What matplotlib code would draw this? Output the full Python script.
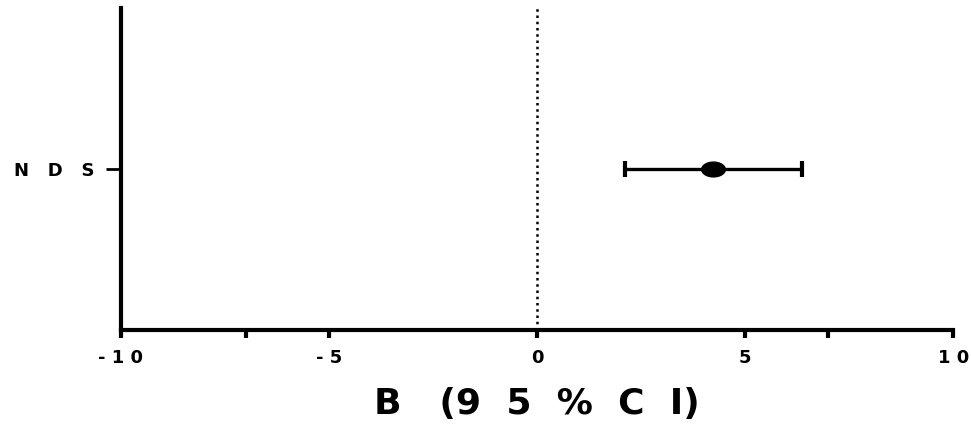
import matplotlib.pyplot as plt
from matplotlib.path import Path
from matplotlib.markers import MarkerStyle
import numpy as np

# Data
#---------------------------
labels = ["NDS"]
estimate = [4.24]
ci_low = [2.12]
ci_high = [6.36]
xticks = [-10, -7, -5, 0, 5, 7, 10]
xticklabels = ["- 1 0", "", "- 5", "0", "5", "", "1 0"]

plt.rcParams['font.family'] = ['DejaVu Sans']

fig = plt.figure(figsize=(9.71, 4.25), dpi=100)
ax = fig.add_axes([0.1246, 0.2235, 0.857, 0.757])

# squashed ellipse marker like the original
t = np.linspace(0, 2 * np.pi, 60)
ellipse = MarkerStyle(Path(np.column_stack([1.6 * np.cos(t), np.sin(t)])))

ypos = np.arange(len(labels)) + 1
est = np.array(estimate)
err = [est - np.array(ci_low), np.array(ci_high) - est]
ax.errorbar(est, ypos, xerr=err, fmt='none', ecolor='black', elinewidth=2.4,
            capsize=6, capthick=3)
ax.plot(est, ypos, linestyle='none', marker=ellipse, markersize=17,
        color='black')

ax.axvline(0, color='black', linestyle=(0, (1, 1.5)), linewidth=1.8, zorder=0)

ax.set_xlim(-10, 10)
ax.set_ylim(0, 2)
ax.set_xticks(xticks)
ax.set_xticklabels(xticklabels, fontsize=13, fontweight='bold')
ax.set_yticks(ypos)
ax.set_yticklabels(["   ".join(l) for l in labels], fontsize=13, fontweight='bold')

ax.spines['top'].set_visible(False)
ax.spines['right'].set_visible(False)
ax.spines['left'].set_linewidth(3)
ax.spines['bottom'].set_linewidth(3)
ax.tick_params(axis='x', length=6, width=3, pad=8)
ax.tick_params(axis='y', length=11, width=2, pad=8)

ax.set_xlabel("B   (9  5  %  C  I)", fontsize=26, fontweight='bold', labelpad=14)

fig.savefig("out.png", dpi=100)
